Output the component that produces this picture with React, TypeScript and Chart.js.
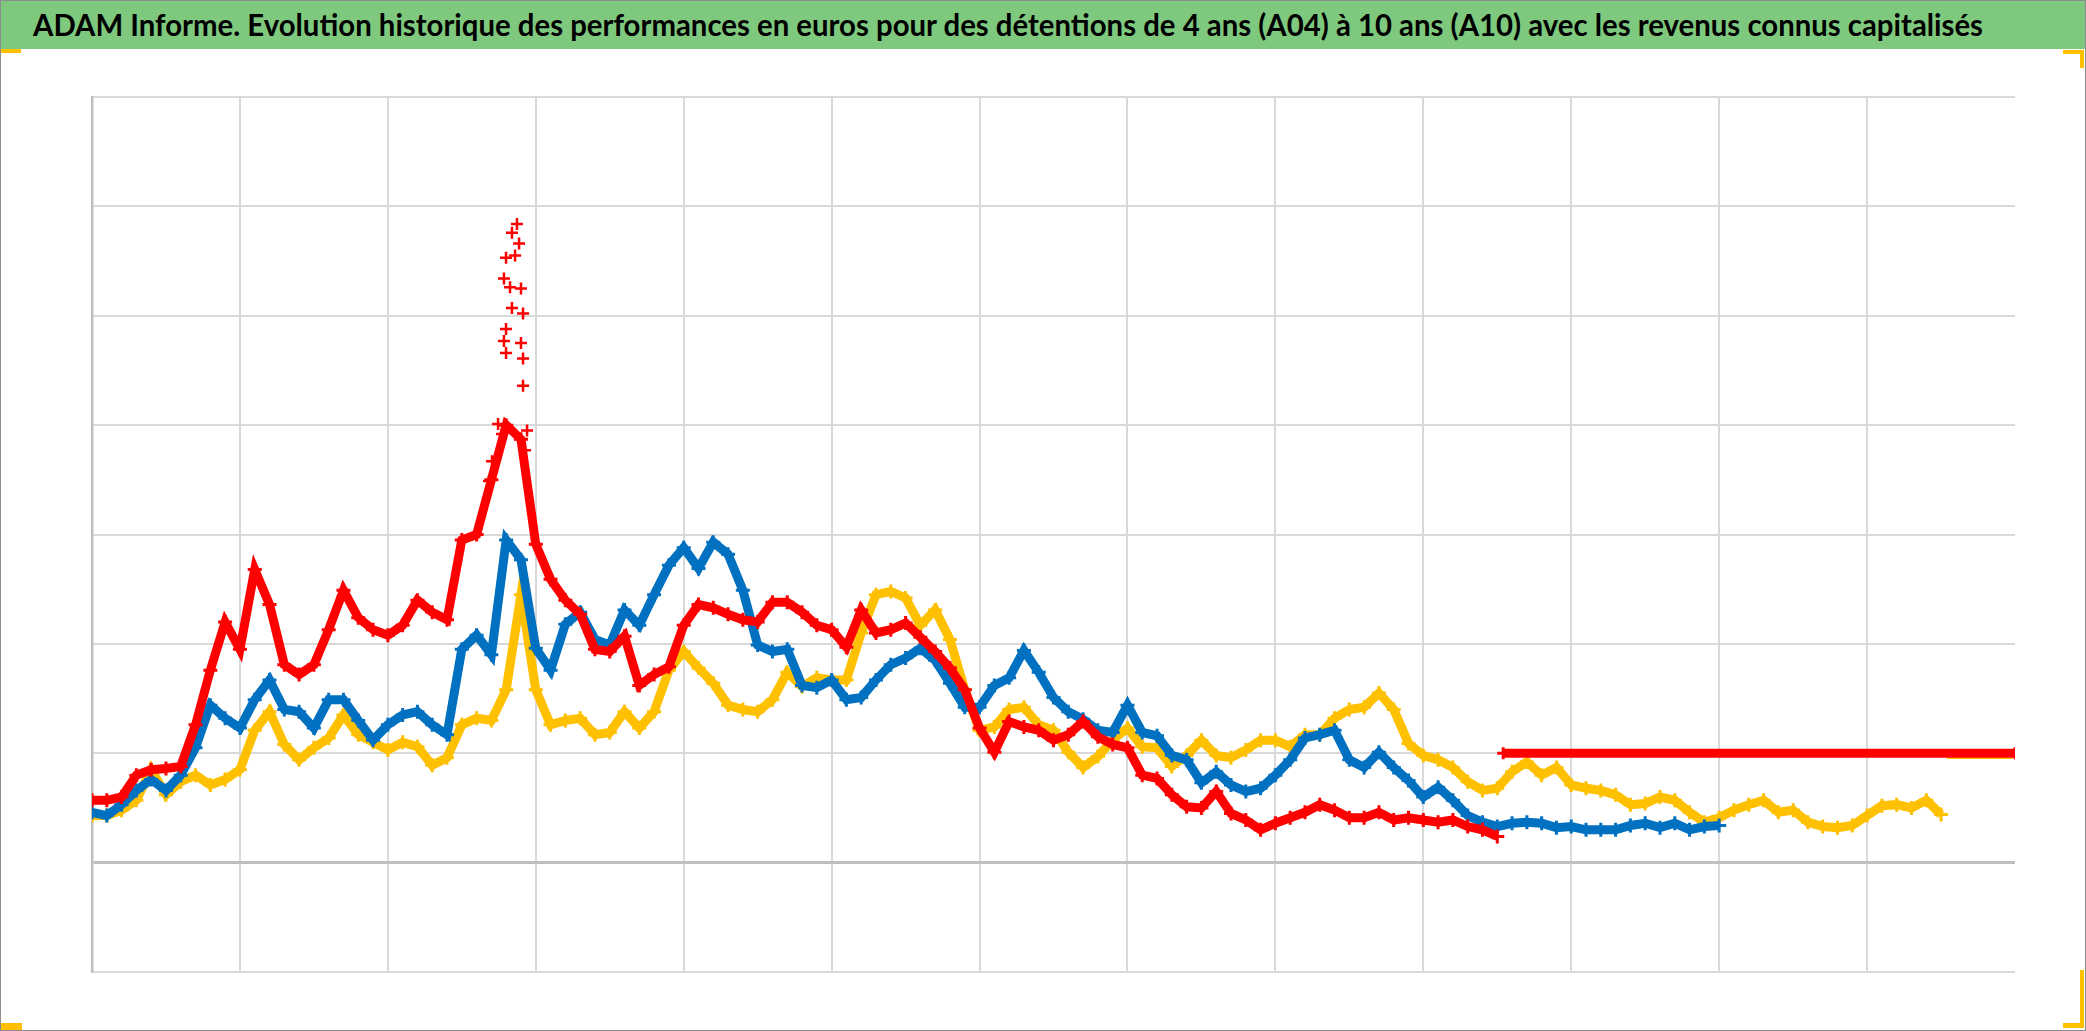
import React, { useEffect, useLayoutEffect, useRef } from "react";
import { Chart, registerables } from "chart.js";

Chart.register(...registerables);

const TITLE =
  "ADAM Informe. Evolution historique des performances en euros pour des détentions de 4 ans (A04) à 10 ans (A10) avec les revenus connus capitalisés";

// axis ranges (no tick labels are shown in the reference)
const X_MIN = 0;
const X_MAX = 1300;
const Y_MIN = -100;
const Y_MAX = 700;
const GRID_STEP = 100;
const SAMPLE_STEP = 10; // x distance between two read values

// red series, read every 10 x-units from x = 0
const RED_VALUES = [
  57, 57, 60, 80, 85, 86, 88, 126, 176, 220,
  195, 268, 236, 181, 172, 181, 213, 249, 224, 213,
  208, 217, 240, 229, 222, 295, 300, 350, 400, 387,
  291, 259, 240, 227, 195, 193, 207, 162, 172, 179,
  217, 236, 233, 227, 222, 220, 238, 238, 229, 217,
  213, 197, 231, 210, 213, 219, 206, 193, 178, 158,
  123, 101, 129, 124, 121, 112, 117, 129, 115, 108,
  105, 80, 77, 62, 51, 50, 65, 45, 39, 30,
  36, 41, 46, 53, 48, 41, 41, 46, 39, 41,
  39, 37, 39, 33, 30, 24,
];

// red isolated points of the peak
const RED_PEAK_X = [
  268.4, 270.4, 274.5, 277.2, 278.5, 278.5, 279.9, 279.9, 279.9, 282.6, 283.9,
  283.9, 286.0, 287.3, 288.7, 290.0, 290.0, 291.4, 291.4, 291.4, 292.7, 294.1,
];
const RED_PEAK_Y = [
  349, 367, 401, 392, 534, 477, 553, 488, 466, 526, 576,
  507, 555, 584, 566, 525, 475, 502, 461, 436, 377, 395,
];

// red flat part
const RED_FLAT_FROM = 954;
const RED_FLAT_TO = 1300;
const RED_FLAT_VALUE = 100;

// blue series, read every 10 x-units from x = 0
const BLUE_VALUES = [
  46, 43, 53, 66, 76, 66, 80, 105, 144, 132,
  123, 149, 167, 140, 138, 123, 149, 149, 130, 112,
  126, 135, 138, 126, 117, 195, 208, 190, 295, 277,
  196, 176, 218, 229, 204, 199, 231, 217, 245, 272,
  288, 269, 293, 282, 249, 199, 193, 195, 162, 160,
  167, 149, 151, 167, 181, 187, 196, 185, 164, 142,
  142, 162, 169, 194, 174, 151, 138, 131, 121, 119,
  144, 119, 116, 98, 94, 73, 83, 71, 65, 68,
  80, 94, 114, 117, 121, 94, 87, 101, 87, 75,
  60, 69, 57, 43, 37, 33, 36, 37, 36, 32,
  33, 30, 30, 30, 34, 36, 32, 36, 30, 33,
  34,
];

// yellow series, read every 10 x-units from x = 0
const YELLOW_VALUES = [
  43, 43, 48, 57, 85, 62, 74, 80, 71, 76,
  85, 121, 138, 108, 94, 105, 114, 135, 117, 110,
  103, 110, 106, 89, 96, 126, 132, 130, 158, 245,
  158, 126, 130, 132, 117, 119, 138, 123, 138, 176,
  193, 178, 164, 144, 140, 138, 149, 174, 161, 169,
  167, 167, 210, 245, 248, 242, 217, 231, 204, 158,
  121, 124, 140, 142, 126, 121, 101, 87, 97, 112,
  123, 106, 105, 88, 98, 112, 98, 96, 103, 112,
  112, 106, 117, 117, 132, 140, 142, 155, 140, 109,
  98, 94, 87, 74, 66, 68, 83, 92, 80, 87,
  71, 68, 66, 62, 53, 54, 60, 57, 46, 37,
  41, 48, 53, 57, 46, 48, 37, 33, 32, 34,
  43, 52, 53, 50, 57, 44,
];

// yellow flat part (mostly hidden under the red one)
const YELLOW_FLAT_FROM = 1254;
const YELLOW_FLAT_TO = 1298;
const YELLOW_FLAT_VALUE = 97;

const RED = "#FF0000";
const BLUE = "#0070C0";
const YELLOW = "#FFC000";

const toPoints = (values: number[]) =>
  values.map((v, i) => ({ x: X_MIN + i * SAMPLE_STEP, y: v }));

const W = 2086;
const H = 1031;

function seriesStyle(color: string) {
  return {
    showLine: true,
    borderColor: color,
    backgroundColor: color,
    borderWidth: 9,
    pointStyle: "cross" as const,
    pointRadius: 7,
    pointBorderWidth: 3,
    pointBorderColor: color,
    tension: 0,
  };
}

export default function App() {
  const canvasRef = useRef<HTMLCanvasElement>(null);
  const titleRef = useRef<HTMLSpanElement>(null);

  useLayoutEffect(() => {
    const fit = () => {
      const el = titleRef.current;
      if (!el) return;
      el.style.transform = "none";
      const w = el.getBoundingClientRect().width;
      if (w > 0) el.style.transform = `scaleX(${1950 / w})`;
    };
    fit();
    if ((document as any).fonts && (document as any).fonts.ready) {
      (document as any).fonts.ready.then(fit);
    }
  }, []);

  useEffect(() => {
    const canvas = canvasRef.current;
    if (!canvas) return;
    const chart = new Chart(canvas, {
      type: "scatter",
      data: {
        datasets: [
          {
            label: "rouge plafond",
            data: [
              { x: RED_FLAT_FROM, y: RED_FLAT_VALUE },
              { x: RED_FLAT_TO, y: RED_FLAT_VALUE },
            ],
            ...seriesStyle(RED),
            borderWidth: 9,
            pointRadius: 6,
          },
          {
            label: "rouge pic",
            data: RED_PEAK_X.map((x, i) => ({ x, y: RED_PEAK_Y[i] })),
            showLine: false,
            pointStyle: "cross",
            pointRadius: 6,
            pointBorderWidth: 2.5,
            borderColor: RED,
            backgroundColor: RED,
          },
          { label: "rouge", data: toPoints(RED_VALUES), ...seriesStyle(RED) },
          { label: "bleu", data: toPoints(BLUE_VALUES), ...seriesStyle(BLUE) },
          {
            label: "jaune plafond",
            data: [
              { x: YELLOW_FLAT_FROM, y: YELLOW_FLAT_VALUE },
              { x: YELLOW_FLAT_TO, y: YELLOW_FLAT_VALUE },
            ],
            ...seriesStyle(YELLOW),
            borderWidth: 5,
            pointRadius: 0,
          },
          { label: "jaune", data: toPoints(YELLOW_VALUES), ...seriesStyle(YELLOW) },
        ],
      },
      options: {
        responsive: false,
        animation: false,
        devicePixelRatio: 1,
        events: [],
        layout: { padding: { left: 92, top: 97, right: 71, bottom: 59 } },
        plugins: {
          legend: { display: false },
          title: { display: false },
          tooltip: { enabled: false },
        },
        scales: {
          x: {
            type: "linear",
            min: X_MIN,
            max: X_MAX,
            ticks: { display: false, stepSize: GRID_STEP },
            grid: {
              drawTicks: false,
              lineWidth: 2,
              color: (ctx: any) =>
                ctx.tick && (ctx.tick.value === X_MAX || ctx.tick.value === X_MIN)
                  ? "rgba(0,0,0,0)"
                  : "#d9d9d9",
            },
            border: { display: false },
          },
          y: {
            type: "linear",
            min: Y_MIN,
            max: Y_MAX,
            ticks: { display: false, stepSize: GRID_STEP },
            grid: {
              drawTicks: false,
              lineWidth: (ctx: any) => (ctx.tick && ctx.tick.value === 0 ? 3 : 2),
              color: (ctx: any) =>
                ctx.tick && ctx.tick.value === 0 ? "#bfbfbf" : "#d9d9d9",
            },
            border: { display: true, color: "#bfbfbf", width: 2.5 },
          },
        },
      },
    });
    return () => chart.destroy();
  }, []);

  const handle = (left: number, top: number, width: number, height: number) => (
    <div
      style={{
        position: "absolute",
        left,
        top,
        width,
        height,
        background: "#FFC000",
        zIndex: 3,
      }}
    />
  );

  return (
    <div
      style={{
        position: "absolute",
        left: 0,
        top: 0,
        width: W,
        height: H,
        background: "#ffffff",
        overflow: "hidden",
      }}
    >
      <canvas
        ref={canvasRef}
        width={W}
        height={H}
        style={{ position: "absolute", left: 0, top: 0, width: W, height: H, display: "block" }}
      />
      <div
        style={{
          position: "absolute",
          left: 0,
          top: 0,
          width: W,
          height: 49,
          background: "#7ec97e",
          zIndex: 2,
          whiteSpace: "nowrap",
          overflow: "hidden",
        }}
      >
        <span
          ref={titleRef}
          style={{
            position: "absolute",
            left: 33,
            top: 0,
            lineHeight: "49px",
            fontFamily: "Lato, 'Open Sans', sans-serif",
            fontWeight: 700,
            fontSize: 31,
            color: "#000000",
            transformOrigin: "0 50%",
            display: "inline-block",
          }}
        >
          {TITLE}
        </span>
      </div>
      <div
        style={{
          position: "absolute",
          left: 0,
          top: 0,
          width: W,
          height: H,
          boxSizing: "border-box",
          border: "1px solid #8c8c8c",
          zIndex: 4,
          pointerEvents: "none",
        }}
      />
      {handle(0, 49, 21, 4)}
      {handle(2063, 50, 21, 4)}
      {handle(2080, 50, 4, 18)}
      {handle(0, 1023, 22, 7)}
      {handle(2063, 1023, 21, 5)}
      {handle(2080, 970, 4, 58)}
    </div>
  );
}
